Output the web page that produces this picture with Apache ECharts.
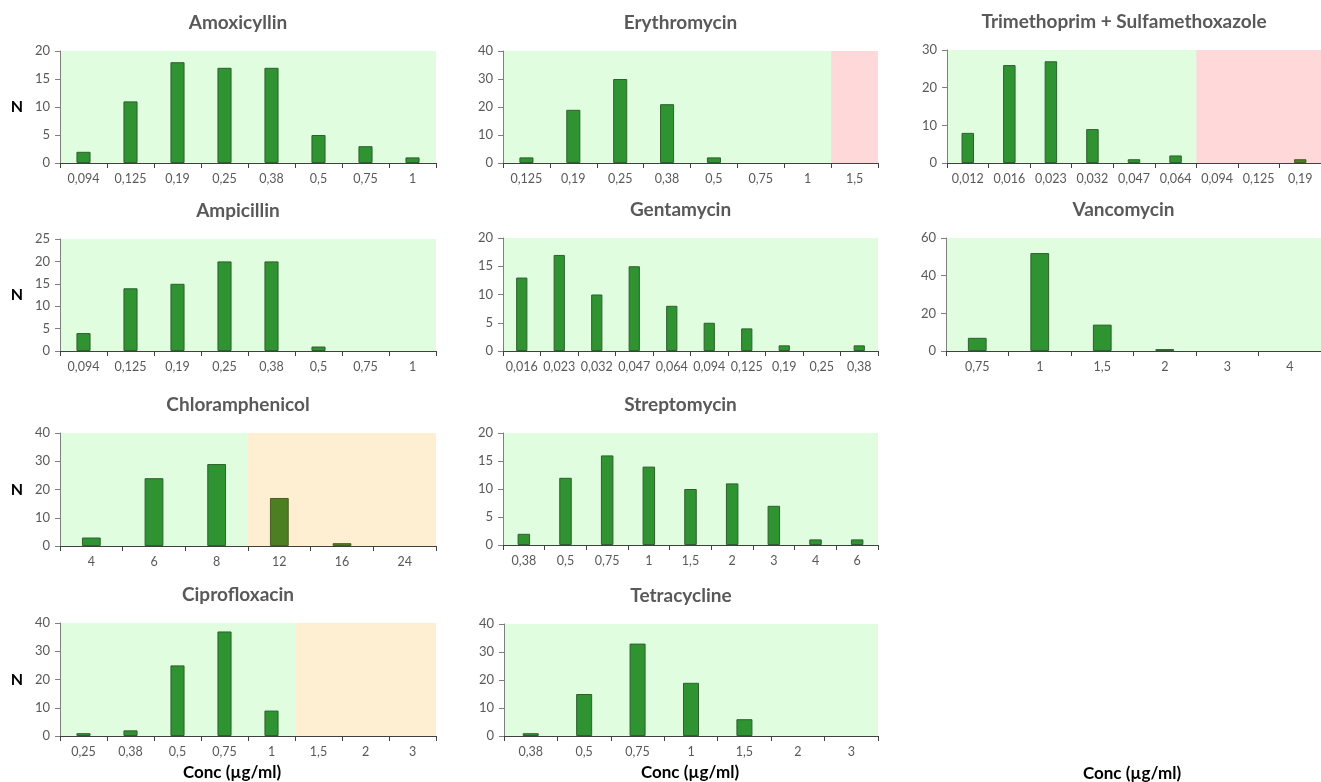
<!DOCTYPE html>
<html>
<head>
<meta charset="utf-8">
<script src="https://cdn.jsdelivr.net/npm/echarts@6/dist/echarts.min.js"></script>
<style>
  html, body { margin: 0; padding: 0; background: #ffffff; }
  #chart { width: 1321px; height: 782px; }
</style>
</head>
<body>
<div id="chart"></div>
<script>
// MIC bins (µg/ml) and number of isolates per bin, one pair per antibiotic
const amoxicyllinConc = ['0,094', '0,125', '0,19', '0,25', '0,38', '0,5', '0,75', '1'];
const amoxicyllinN = [2, 11, 18, 17, 17, 5, 3, 1];

const erythromycinConc = ['0,125', '0,19', '0,25', '0,38', '0,5', '0,75', '1', '1,5'];
const erythromycinN = [2, 19, 30, 21, 2, 0, 0, 0];

const tmpSmxConc = ['0,012', '0,016', '0,023', '0,032', '0,047', '0,064', '0,094', '0,125', '0,19'];
const tmpSmxN = [8, 26, 27, 9, 1, 2, 0, 0, 1];

const ampicillinConc = ['0,094', '0,125', '0,19', '0,25', '0,38', '0,5', '0,75', '1'];
const ampicillinN = [4, 14, 15, 20, 20, 1, 0, 0];

const gentamycinConc = ['0,016', '0,023', '0,032', '0,047', '0,064', '0,094', '0,125', '0,19', '0,25', '0,38'];
const gentamycinN = [13, 17, 10, 15, 8, 5, 4, 1, 0, 1];

const vancomycinConc = ['0,75', '1', '1,5', '2', '3', '4'];
const vancomycinN = [7, 52, 14, 1, 0, 0];

const chloramphenicolConc = ['4', '6', '8', '12', '16', '24'];
const chloramphenicolN = [3, 24, 29, 17, 1, 0];

const streptomycinConc = ['0,38', '0,5', '0,75', '1', '1,5', '2', '3', '4', '6'];
const streptomycinN = [2, 12, 16, 14, 10, 11, 7, 1, 1];

const ciprofloxacinConc = ['0,25', '0,38', '0,5', '0,75', '1', '1,5', '2', '3'];
const ciprofloxacinN = [1, 2, 25, 37, 9, 0, 0, 0];

const tetracyclineConc = ['0,38', '0,5', '0,75', '1', '1,5', '2', '3'];
const tetracyclineN = [1, 15, 33, 19, 6, 0, 0];

// Y axis ranges [max, step]
const yScales = {
  amoxicyllin: [20, 5], erythromycin: [40, 10], tmpSmx: [30, 10],
  ampicillin: [25, 5], gentamycin: [20, 5], vancomycin: [60, 20],
  chloramphenicol: [40, 10], streptomycin: [20, 5],
  ciprofloxacin: [40, 10], tetracycline: [40, 10]
};

// First concentration that falls in the shaded breakpoint zone
const erythromycinZoneFrom = '1,5';
const tmpSmxZoneFrom = '0,094';
const chloramphenicolZoneFrom = '12';
const ciprofloxacinZoneFrom = '1,5';

const FONT = 'Lato, "Liberation Sans", sans-serif';
const GREEN_BG = '#e0fde0';
const PINK = '#ffd9d9';
const ORANGE = '#ffefd2';

// name, categories, counts, y scale key, zone start, zone colour, grid box, left column
const panels = [
  ['Amoxicyllin', amoxicyllinConc, amoxicyllinN, 'amoxicyllin', null, null, [60, 51, 376, 112], true],
  ['Erythromycin', erythromycinConc, erythromycinN, 'erythromycin', erythromycinZoneFrom, PINK, [503, 51, 375, 112], false],
  ['Trimethoprim + Sulfamethoxazole', tmpSmxConc, tmpSmxN, 'tmpSmx', tmpSmxZoneFrom, PINK, [947, 50, 374, 113], false],
  ['Ampicillin', ampicillinConc, ampicillinN, 'ampicillin', null, null, [60, 239, 376, 112], true],
  ['Gentamycin', gentamycinConc, gentamycinN, 'gentamycin', null, null, [503, 238, 375, 113], false],
  ['Vancomycin', vancomycinConc, vancomycinN, 'vancomycin', null, null, [946, 238, 375, 113], false],
  ['Chloramphenicol', chloramphenicolConc, chloramphenicolN, 'chloramphenicol', chloramphenicolZoneFrom, ORANGE, [60, 433, 376, 113], true],
  ['Streptomycin', streptomycinConc, streptomycinN, 'streptomycin', null, null, [503, 433, 375, 112], false],
  ['Ciprofloxacin', ciprofloxacinConc, ciprofloxacinN, 'ciprofloxacin', ciprofloxacinZoneFrom, ORANGE, [60, 623, 376, 113], true],
  ['Tetracycline', tetracyclineConc, tetracyclineN, 'tetracycline', null, null, [504, 624, 374, 112], false]
];

const grids = [], xAxes = [], yAxes = [], series = [], graphics = [];

panels.forEach(([name, cats, counts, scaleKey, zoneFrom, zoneColor, box, leftCol], i) => {
  const [left, top, width, height] = box;
  const [yMax, yStep] = yScales[scaleKey];
  const zoneIdx = zoneFrom ? cats.indexOf(zoneFrom) : -1;

  grids.push({
    left: left, top: top, width: width, height: height,
    show: true, backgroundColor: GREEN_BG, borderWidth: 0
  });

  xAxes.push({
    gridIndex: i, type: 'category', data: cats,
    axisLine: { show: true, lineStyle: { color: '#404040', width: 1 } },
    axisTick: { show: true, length: 5, lineStyle: { color: '#404040' } },
    axisLabel: { color: '#595959', fontSize: 12.5, fontFamily: FONT, margin: 9, interval: 0 },
    splitLine: { show: false }
  });

  yAxes.push({
    gridIndex: i, type: 'value', min: 0, max: yMax, interval: yStep,
    axisLine: { show: true, lineStyle: { color: '#7f7f7f', width: 1 } },
    axisTick: { show: true, length: 5, lineStyle: { color: '#7f7f7f' } },
    axisLabel: { color: '#595959', fontSize: 13, fontFamily: FONT, margin: 10 },
    splitLine: { show: false }
  });

  // empty bins get no outline so they leave no trace on the axis
  const barData = counts.map((v, k) => {
    const inZone = zoneIdx >= 0 && k >= zoneIdx;
    return {
      value: v,
      itemStyle: {
        color: inZone ? '#4c7f22' : '#2e9330',
        borderColor: inZone ? '#4d5a24' : '#2f5f2f',
        borderWidth: v > 0 ? 1 : 0
      }
    };
  });

  const s = {
    type: 'bar', xAxisIndex: i, yAxisIndex: i,
    data: barData, barWidth: '30%', silent: true
  };
  if (zoneIdx >= 0) {
    s.markArea = {
      silent: true,
      itemStyle: { color: zoneColor },
      data: [[{ xAxis: zoneIdx - 0.5 }, { xAxis: cats.length - 0.5 }]]
    };
  }
  series.push(s);

  // panel heading
  graphics.push({
    type: 'text', x: left + width / 2 - 10, y: top - 28,
    style: { text: name, fill: '#595959', font: 'bold 19px ' + FONT, align: 'center', verticalAlign: 'middle' }
  });

  if (leftCol) {
    graphics.push({
      type: 'text', x: 17, y: top + height / 2,
      style: { text: 'N', fill: '#000000', font: 'bold 16px ' + FONT, align: 'center', verticalAlign: 'middle' }
    });
  }
});

// bottom-row axis titles
[[232, 773], [690, 773], [1132, 774]].forEach(([x, y]) => {
  graphics.push({
    type: 'text', x: x, y: y,
    style: { text: 'Conc (µg/ml)', fill: '#000000', font: 'bold 17px ' + FONT, align: 'center', verticalAlign: 'middle' }
  });
});

const chart = echarts.init(document.getElementById('chart'), null, { renderer: 'canvas' });
chart.setOption({
  animation: false,
  backgroundColor: '#ffffff',
  grid: grids,
  xAxis: xAxes,
  yAxis: yAxes,
  series: series,
  graphic: graphics
});
</script>
</body>
</html>
